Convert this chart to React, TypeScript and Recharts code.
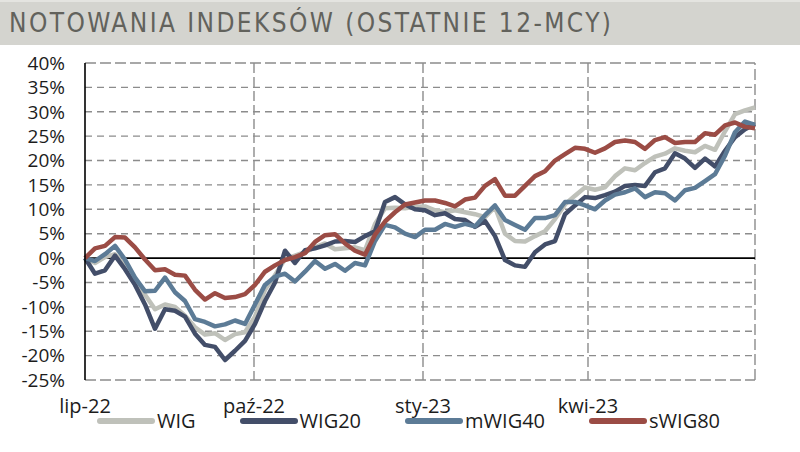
import React from 'react';
import { LineChart, Line, XAxis, YAxis, CartesianGrid, ReferenceLine, Legend } from 'recharts';

// Colour constants
const COLORS = {
  band: '#d4d4cf',
  title: '#62625c',
  grid: '#8c8c8c',
  text: '#1c1c1c',
  wig: '#bfc1ba',
  wig20: '#434e69',
  mwig40: '#5c7b96',
  swig80: '#9b4c45',
};

const FONT = "'Open Sans', 'Noto Sans', sans-serif";

// Index changes since July 2022 (%), sampled across the 12 months
const WIG = [
  0, -1.0, 0.2, 0.8, -1.5, -4.5, -7.5, -10.5, -9.5, -10.0,
  -11.8, -14.2, -15.7, -15.4, -16.8, -15.6, -15.2, -12.0, -6.5, -3.5,
  -0.2, 0.5, 1.2, 2.2, 3.0, 1.8, 2.0, 2.2, 1.6, 7.0,
  10.2, 10.3, 10.2, 10.5, 10.6, 9.8, 9.4, 9.8, 9.4, 9.0,
  8.4, 10.5, 5.0, 3.5, 3.4, 4.5, 5.5, 8.0, 11.0, 12.8,
  14.5, 14.0, 14.5, 16.8, 18.4, 18.0, 19.5, 20.8, 21.4, 22.5,
  22.0, 21.7, 23.0, 22.2, 26.0, 29.5, 30.3, 30.9,
];

const WIG20 = [
  0, -3.2, -2.5, 0.5, -2.3, -5.5, -9.5, -14.5, -10.5, -10.8,
  -12.0, -15.5, -17.8, -18.2, -20.9, -19.0, -17.0, -13.5, -8.8, -5.0,
  1.5, -1.0, 1.6, 2.0, 2.6, 3.4, 3.5, 3.3, 4.5, 5.5,
  11.5, 12.5, 11.0, 10.0, 9.8, 8.8, 9.2, 8.0, 7.8, 6.4,
  7.6, 4.5, -0.4, -1.5, -1.8, 1.2, 2.8, 3.5, 9.0, 10.8,
  12.5, 12.3, 12.9, 13.6, 14.8, 15.0, 14.8, 17.6, 18.4, 21.5,
  20.4, 18.5, 20.4, 18.8, 22.0, 24.8, 26.4, 27.5,
];

const MWIG40 = [
  0, -0.6, 0.8, 2.5, -0.3, -4.0, -6.8, -6.7, -4.0, -7.0,
  -8.8, -12.5, -13.1, -14.0, -13.6, -12.8, -13.5, -9.5, -5.5, -3.8,
  -3.2, -4.8, -2.8, -0.6, -2.2, -1.2, -2.6, -1.0, -1.5, 3.5,
  6.8, 6.3, 5.0, 4.3, 5.8, 5.8, 7.0, 6.4, 7.0, 6.5,
  8.8, 10.8, 7.8, 6.8, 5.8, 8.2, 8.2, 8.8, 11.5, 11.5,
  10.8, 10.0, 11.8, 13.0, 13.5, 14.3, 12.5, 13.5, 13.3, 11.8,
  13.9, 14.4, 15.8, 17.2, 21.0, 25.8, 28.0, 27.3,
];

const SWIG80 = [
  0, 2.0, 2.5, 4.3, 4.2, 2.2, -0.3, -2.5, -2.3, -3.4,
  -3.6, -6.5, -8.5, -7.2, -8.2, -8.0, -7.4, -5.5, -2.8, -1.5,
  -0.4, 0.2, 1.0, 3.3, 4.7, 4.9, 3.0, 1.5, 0.7, 4.8,
  7.5, 9.4, 11.0, 11.4, 11.8, 11.8, 11.3, 10.6, 12.0, 12.4,
  14.8, 16.2, 12.8, 12.8, 14.8, 16.8, 17.8, 20.0, 21.3, 22.6,
  22.4, 21.6, 22.5, 23.8, 24.1, 23.8, 22.4, 24.2, 24.8, 23.6,
  23.8, 23.8, 25.6, 25.3, 27.2, 27.8, 26.9, 26.6,
];

// Quarter starts, in sample units, and their labels
const QUARTER_TICKS = [0, 16.9, 33.8, 50.3, 67];
const QUARTER_LABELS = ['lip-22', 'paź-22', 'sty-23', 'kwi-23', ''];
const Y_TICKS = [-25, -20, -15, -10, -5, 0, 5, 10, 15, 20, 25, 30, 35, 40];
const Y_INNER = [-20, -15, -10, -5, 5, 10, 15, 20, 25, 30, 35];
const X_INNER = [16.9, 33.8, 50.3];

const SERIES = [
  { key: 'WIG', color: COLORS.wig },
  { key: 'WIG20', color: COLORS.wig20 },
  { key: 'mWIG40', color: COLORS.mwig40 },
  { key: 'sWIG80', color: COLORS.swig80 },
];

const data = WIG.map((v, i) => ({
  i,
  WIG: v,
  WIG20: WIG20[i],
  mWIG40: MWIG40[i],
  sWIG80: SWIG80[i],
}));

const LegendContent = () => (
  <div style={{ display: 'flex', alignItems: 'center', paddingLeft: 97, height: 22, fontFamily: FONT, fontSize: 20, color: COLORS.text }}>
    {SERIES.map((s) => (
      <div key={s.key} style={{ display: 'flex', alignItems: 'center', marginRight: 44 }}>
        <svg width={58} height={10} style={{ display: 'block' }}>
          <line x1={3} y1={5} x2={55} y2={5} stroke={s.color} strokeWidth={6} strokeLinecap="round" />
        </svg>
        <span style={{ marginLeft: 2, lineHeight: '22px' }}>{s.key}</span>
      </div>
    ))}
  </div>
);

const App: React.FC = () => {
  return (
    <div style={{ position: 'absolute', left: 0, top: 0, width: 800, height: 452, background: '#fff', overflow: 'hidden' }}>
      <svg width={800} height={46} style={{ position: 'absolute', left: 0, top: 0 }}>
        <rect x={0} y={0} width={800} height={45} fill={COLORS.band} />
        <rect x={0} y={0} width={800} height={2} fill="#e4e4e0" />
        <text
          x={9}
          y={32}
          fill={COLORS.title}
          fontFamily="'Liberation Sans Narrow', 'DejaVu Sans Condensed', 'Roboto', sans-serif"
          fontSize={26}
          textLength={602}
          lengthAdjust="spacing"
        >
          NOTOWANIA INDEKSÓW (OSTATNIE 12-MCY)
        </text>
      </svg>

      <div style={{ position: 'absolute', left: 0, top: 0 }}>
        <LineChart width={800} height={452} data={data} margin={{ top: 63, right: 45, left: 25, bottom: 20 }}>
          <CartesianGrid
            vertical={false}
            horizontalValues={Y_INNER}
            stroke={COLORS.grid}
            strokeWidth={1.4}
            strokeDasharray="7 5"
          />
          <CartesianGrid
            horizontal={false}
            verticalValues={X_INNER}
            stroke={COLORS.grid}
            strokeWidth={1.4}
            strokeDasharray="10 4"
          />
          <XAxis
            dataKey="i"
            type="number"
            domain={[0, 67]}
            ticks={QUARTER_TICKS}
            tickFormatter={(v: number) => QUARTER_LABELS[QUARTER_TICKS.indexOf(v)] ?? ''}
            axisLine={false}
            tickLine={false}
            tickSize={0}
            tickMargin={19}
            height={30}
            interval={0}
            tick={{ fill: COLORS.text, fontSize: 20, fontFamily: FONT }}
          />
          <YAxis
            type="number"
            domain={[-25, 40]}
            ticks={Y_TICKS}
            tickFormatter={(v: number) => `${v}%`}
            axisLine={{ stroke: '#000', strokeWidth: 1.6 }}
            tickLine={false}
            tickSize={0}
            tickMargin={20}
            width={60}
            interval={0}
            tick={{ fill: COLORS.text, fontSize: 19, fontFamily: FONT }}
          />
          <ReferenceLine y={40} stroke={COLORS.grid} strokeWidth={1.4} strokeDasharray="11 4" />
          <ReferenceLine y={-25} stroke={COLORS.grid} strokeWidth={1.4} strokeDasharray="11 4" />
          <ReferenceLine x={67} stroke={COLORS.grid} strokeWidth={1.4} strokeDasharray="11 4" />
          <ReferenceLine y={0} stroke="#000" strokeWidth={1.6} />
          <Legend verticalAlign="bottom" content={<LegendContent />} wrapperStyle={{ left: 0, width: 800 }} />
          {SERIES.map((s) => (
            <Line
              key={s.key}
              type="linear"
              dataKey={s.key}
              stroke={s.color}
              strokeWidth={4.5}
              strokeLinejoin="round"
              dot={false}
              activeDot={false}
              isAnimationActive={false}
            />
          ))}
        </LineChart>
      </div>
    </div>
  );
};

export default App;
